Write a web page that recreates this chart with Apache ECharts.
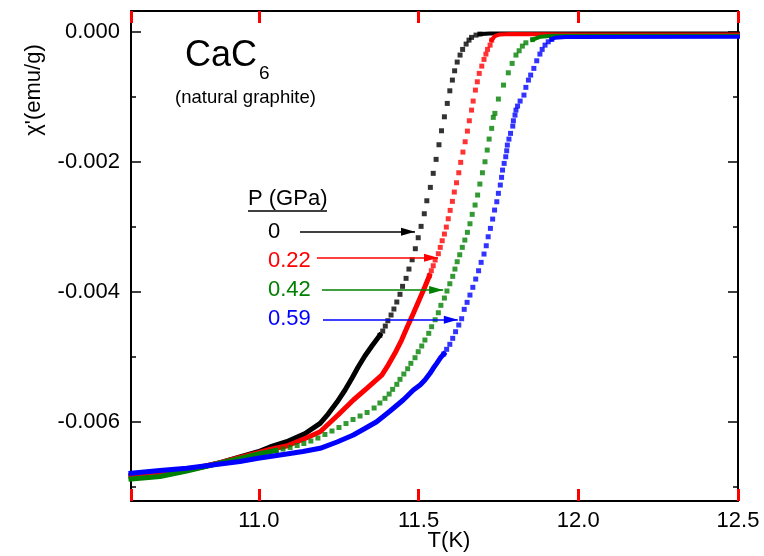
<!DOCTYPE html>
<html>
<head>
<meta charset="utf-8">
<script src="https://cdn.jsdelivr.net/npm/echarts@6/dist/echarts.min.js"></script>
<style>
  html, body { margin: 0; padding: 0; background: #fff; }
  #chart { width: 764px; height: 556px; }
</style>
</head>
<body>
<div id="chart"></div>
<script>
// pressures and colours of the four runs
const pressures = ['0', '0.22', '0.42', '0.59'];
const colors = ['#000000', '#ff0000', '#008000', '#0000ff'];

// dense low-T part of each run (points touch, drawn as a thick band)
const blackLow = [[10.600,-0.006828],[10.691,-0.006789],[10.774,-0.006743],[10.816,-0.006705],[10.879,-0.006631],[10.941,-0.006543],[10.998,-0.006462],[11.035,-0.006389],[11.087,-0.006308],[11.145,-0.006182],[11.192,-0.006025],[11.217,-0.005882],[11.245,-0.005697],[11.270,-0.005512],[11.292,-0.005328],[11.311,-0.005158],[11.332,-0.004989],[11.354,-0.004835],[11.379,-0.004671]];
const redLow = [[10.600,-0.006835],[10.691,-0.006797],[10.774,-0.006743],[10.879,-0.006631],[10.941,-0.006551],[10.998,-0.006477],[11.035,-0.006428],[11.087,-0.006374],[11.145,-0.006258],[11.192,-0.006154],[11.248,-0.005897],[11.296,-0.005666],[11.339,-0.005482],[11.385,-0.005282],[11.405,-0.005128],[11.426,-0.004948],[11.447,-0.004743],[11.465,-0.004538],[11.484,-0.004332],[11.502,-0.004128],[11.520,-0.003923],[11.534,-0.003754]];
const greenLow = [[10.600,-0.006882],[10.691,-0.006843],[10.774,-0.006758],[10.879,-0.006635],[10.941,-0.006566],[10.998,-0.006497],[11.054,-0.006443]];
const blueLow = [[10.600,-0.006794],[10.691,-0.006751],[10.774,-0.006717],[10.879,-0.006651],[10.941,-0.006612],[10.998,-0.006563],[11.035,-0.006535],[11.087,-0.006497],[11.138,-0.006458],[11.192,-0.006409],[11.245,-0.006312],[11.296,-0.006205],[11.332,-0.006105],[11.369,-0.006000],[11.411,-0.005835],[11.452,-0.005666],[11.468,-0.005589],[11.484,-0.005512],[11.505,-0.005435],[11.520,-0.005358],[11.536,-0.005255],[11.546,-0.005178],[11.557,-0.005102],[11.569,-0.005015],[11.579,-0.004958]];

// separated points across the transition
const blackPts = [[11.379,-0.004671],[11.388,-0.004605],[11.396,-0.004528],[11.404,-0.004446],[11.414,-0.004358],[11.423,-0.004266],[11.432,-0.004158],[11.442,-0.004040],[11.450,-0.003917],[11.461,-0.003794],[11.470,-0.003651],[11.480,-0.003508],[11.490,-0.003338],[11.499,-0.003169],[11.508,-0.002994],[11.518,-0.002800],[11.526,-0.002600],[11.537,-0.002394],[11.546,-0.002178],[11.555,-0.001963],[11.564,-0.001738],[11.572,-0.001523],[11.581,-0.001308],[11.590,-0.001102],[11.598,-0.000908],[11.606,-0.000743],[11.613,-0.000600],[11.621,-0.000466],[11.630,-0.000358],[11.638,-0.000271],[11.649,-0.000189],[11.658,-0.000128],[11.666,-0.000086],[11.680,-0.000051],[11.692,-0.000035]];
const redPts = [[11.534,-0.003754],[11.540,-0.003677],[11.546,-0.003600],[11.552,-0.003512],[11.562,-0.003415],[11.568,-0.003317],[11.574,-0.003215],[11.581,-0.003112],[11.587,-0.003005],[11.593,-0.002877],[11.599,-0.002748],[11.606,-0.002609],[11.612,-0.002466],[11.619,-0.002323],[11.626,-0.002169],[11.632,-0.002009],[11.639,-0.001851],[11.646,-0.001692],[11.653,-0.001528],[11.659,-0.001369],[11.666,-0.001205],[11.671,-0.001066],[11.678,-0.000897],[11.684,-0.000769],[11.690,-0.000640],[11.698,-0.000528],[11.705,-0.000425],[11.711,-0.000343],[11.716,-0.000271],[11.724,-0.000205],[11.729,-0.000128]];
const greenPts = [[11.054,-0.006443],[11.076,-0.006420],[11.098,-0.006397],[11.120,-0.006366],[11.141,-0.006335],[11.163,-0.006297],[11.185,-0.006251],[11.207,-0.006197],[11.229,-0.006143],[11.251,-0.006089],[11.273,-0.006028],[11.295,-0.005966],[11.317,-0.005912],[11.339,-0.005858],[11.361,-0.005789],[11.379,-0.005712],[11.395,-0.005640],[11.408,-0.005574],[11.419,-0.005502],[11.432,-0.005425],[11.442,-0.005348],[11.454,-0.005266],[11.466,-0.005185],[11.476,-0.005102],[11.489,-0.005015],[11.499,-0.004923],[11.510,-0.004835],[11.520,-0.004743],[11.532,-0.004640],[11.541,-0.004538],[11.552,-0.004431],[11.562,-0.004323],[11.570,-0.004209],[11.581,-0.004097],[11.589,-0.003989],[11.598,-0.003877],[11.607,-0.003763],[11.614,-0.003651],[11.621,-0.003538],[11.629,-0.003431],[11.637,-0.003317],[11.645,-0.003205],[11.653,-0.003086],[11.661,-0.002954],[11.668,-0.002809],[11.677,-0.002666],[11.685,-0.002512],[11.692,-0.002343],[11.700,-0.002169],[11.708,-0.002000],[11.715,-0.001820],[11.721,-0.001651],[11.729,-0.001486],[11.734,-0.001317],[11.739,-0.001255],[11.750,-0.001035],[11.766,-0.000820],[11.781,-0.000631],[11.793,-0.000486],[11.805,-0.000358],[11.815,-0.000292],[11.825,-0.000220],[11.836,-0.000169],[11.857,-0.000120]];
const bluePts = [[11.579,-0.004958],[11.588,-0.004886],[11.598,-0.004809],[11.607,-0.004717],[11.616,-0.004615],[11.626,-0.004512],[11.635,-0.004415],[11.643,-0.004271],[11.652,-0.004163],[11.661,-0.004051],[11.670,-0.003932],[11.679,-0.003805],[11.688,-0.003677],[11.696,-0.003548],[11.705,-0.003420],[11.712,-0.003292],[11.718,-0.003154],[11.725,-0.003025],[11.732,-0.002882],[11.738,-0.002743],[11.745,-0.002615],[11.750,-0.002486],[11.756,-0.002358],[11.760,-0.002240],[11.763,-0.002128],[11.768,-0.002025],[11.773,-0.001923],[11.776,-0.001831],[11.778,-0.001743],[11.783,-0.001651],[11.788,-0.001563],[11.795,-0.001451],[11.797,-0.001369],[11.802,-0.001282],[11.805,-0.001205],[11.810,-0.001143],[11.818,-0.001066],[11.830,-0.000974],[11.836,-0.000855],[11.844,-0.000743],[11.851,-0.000666],[11.861,-0.000563],[11.870,-0.000446],[11.880,-0.000343],[11.887,-0.000271],[11.896,-0.000205],[11.906,-0.000154],[11.917,-0.000117]];

// dense normal-state plateau
const blackHigh = [[11.692,-0.000035],[11.724,-0.000028],[11.818,-0.000025],[12.068,-0.000025],[12.500,-0.000025]];
const redHigh = [[11.729,-0.000128],[11.739,-0.000066],[11.755,-0.000040],[11.790,-0.000035],[12.000,-0.000040],[12.500,-0.000040]];
const greenHigh = [[11.857,-0.000120],[11.880,-0.000077],[11.920,-0.000062],[12.500,-0.000060]];
const blueHigh = [[11.917,-0.000117],[11.927,-0.000092],[11.960,-0.000080],[12.500,-0.000077]];

// label arrows: start T, tip T, level
const arrowStart = [11.129, 11.182, 11.198, 11.201];
const arrowEnd = [11.489, 11.561, 11.577, 11.623];
const arrowLevel = [-0.003077, -0.003477, -0.003974, -0.004431];

// axis ranges
const xMin = 10.6, xMax = 12.5;
const yMin = -0.00722, yMax = 0.00032;

const lows = [blackLow, redLow, greenLow, blueLow];
const pts = [blackPts, redPts, greenPts, bluePts];
const highs = [blackHigh, redHigh, greenHigh, blueHigh];

const font = 'Liberation Sans, Arial, sans-serif';
// triangle whose tip sits at the centre of a 28x28 box, so the tip lands on the end point
const arrowHead = 'path://M0,0L0.01,0M28,28L27.99,28M14,14L18,28L10,28Z';
const chart = echarts.init(document.getElementById('chart'));

const series = [];
pressures.forEach((p, i) => {
  const c = colors[i];
  series.push({ name: p + ' low', type: 'line', data: lows[i], showSymbol: false, silent: true,
    z: 2 + i, lineStyle: { color: c, width: 5, cap: 'square' } });
  series.push({ name: p + ' high', type: 'line', data: highs[i], showSymbol: false, silent: true,
    z: 2 + i, lineStyle: { color: c, width: 4, cap: 'square' } });
  series.push({
    name: p, type: 'scatter', data: pts[i], symbol: 'rect', symbolSize: 5,
    itemStyle: { color: c }, silent: true, z: 2 + i,
    markLine: {
      silent: true, animation: false,
      symbol: ['none', arrowHead],
      symbolSize: 28,
      label: { show: false },
      lineStyle: { color: c, width: 1.5, type: 'solid' },
      itemStyle: { color: c },
      data: [[{ coord: [arrowStart[i], arrowLevel[i]] }, { coord: [arrowEnd[i], arrowLevel[i]] }]]
    }
  });
});

const xTick = { show: true, inside: true, length: 12, lineStyle: { color: '#ff0000', width: 3 } };
const yTick = { show: true, inside: true, length: 10, lineStyle: { color: '#000', width: 1.5 } };
const yMinor = { show: true, splitNumber: 2, length: 5, lineStyle: { color: '#000', width: 1.5 } };

chart.setOption({
  animation: false,
  grid: { left: 131, right: 26, top: 11, bottom: 55 },
  xAxis: [
    { type: 'value', min: xMin, max: xMax, splitNumber: 4, position: 'bottom',
      splitLine: { show: false },
      axisLine: { show: true, onZero: false, lineStyle: { color: '#000', width: 2 } },
      axisTick: xTick,
      axisLabel: { margin: 9, color: '#000', fontSize: 22, fontFamily: font,
        formatter: v => (Math.round(v * 10) % 5 === 0 ? v.toFixed(1) : '') } },
    { type: 'value', min: xMin, max: xMax, splitNumber: 4, position: 'top',
      splitLine: { show: false },
      axisLine: { show: true, onZero: false, lineStyle: { color: '#000', width: 2 } },
      axisTick: xTick, axisLabel: { show: false } }
  ],
  yAxis: [
    { type: 'value', min: yMin, max: yMax, splitNumber: 4, position: 'left',
      splitLine: { show: false },
      axisLine: { show: true, onZero: false, lineStyle: { color: '#000', width: 2 } },
      axisTick: yTick, minorTick: yMinor,
      axisLabel: { margin: 11, color: '#000', fontSize: 22, fontFamily: font,
        formatter: v => (Math.round(v * 1e6) % 2000 === 0 ? v.toFixed(3) : '') } },
    { type: 'value', min: yMin, max: yMax, splitNumber: 4, position: 'right',
      splitLine: { show: false },
      axisLine: { show: true, onZero: false, lineStyle: { color: '#000', width: 2 } },
      axisTick: yTick, minorTick: yMinor, axisLabel: { show: false } }
  ],
  series: series,
  graphic: [
    { type: 'text', left: 185, top: 38, style: { text: 'CaC', font: '36px ' + font, fill: '#000' } },
    { type: 'text', left: 259, top: 64, style: { text: '6', font: '19px ' + font, fill: '#000' } },
    { type: 'text', left: 175, top: 88, style: { text: '(natural graphite)', font: '18.5px ' + font, fill: '#000' } },
    { type: 'text', left: 248, top: 188, style: { text: 'P (GPa)', font: '22px ' + font, fill: '#000' } },
    { type: 'line', shape: { x1: 248, y1: 211, x2: 327, y2: 211 }, style: { stroke: '#000', lineWidth: 1.5 } },
    { type: 'text', left: 268, top: 221, style: { text: pressures[0], font: '22px ' + font, fill: colors[0] } },
    { type: 'text', left: 268, top: 250, style: { text: pressures[1], font: '22px ' + font, fill: colors[1] } },
    { type: 'text', left: 268, top: 279, style: { text: pressures[2], font: '22px ' + font, fill: colors[2] } },
    { type: 'text', left: 268, top: 308, style: { text: pressures[3], font: '22px ' + font, fill: colors[3] } },
    { type: 'text', x: 449, y: 541, style: { text: 'T(K)', font: '22px ' + font, fill: '#000', textAlign: 'center', textVerticalAlign: 'middle' } },
    { type: 'text', x: 34, y: 90, rotation: Math.PI / 2, style: { text: "\u03c7'(emu/g)", font: '22px ' + font, fill: '#000', textAlign: 'center', textVerticalAlign: 'middle' } }
  ]
});
</script>
</body>
</html>
